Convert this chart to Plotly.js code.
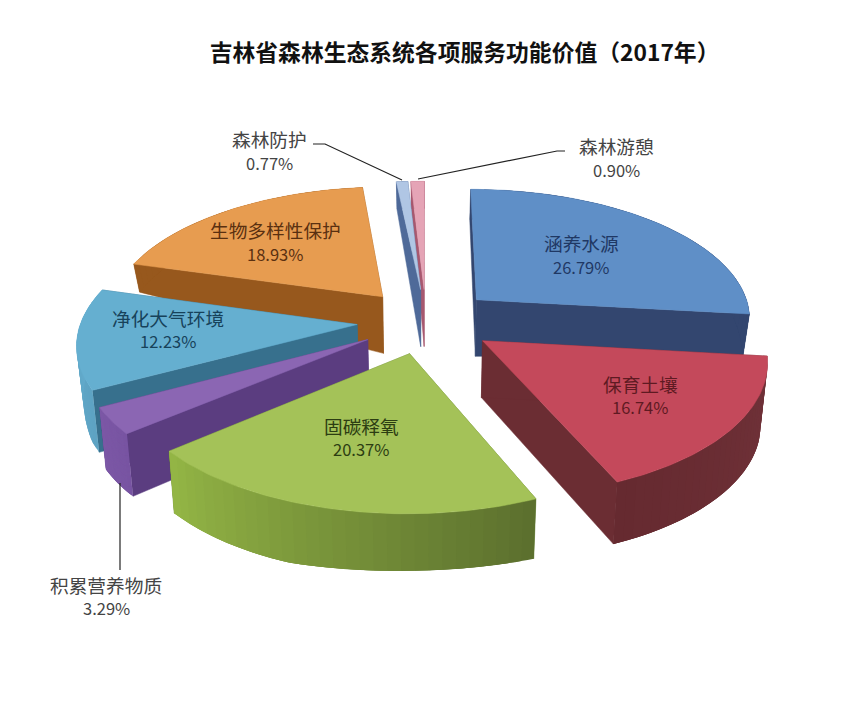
<!DOCTYPE html>
<html><head><meta charset="utf-8">
<script src="https://cdn.plot.ly/plotly-3.0.1.min.js"></script>
<style>html,body{margin:0;padding:0;background:#fff}</style></head>
<body><div id="chart" style="width:854px;height:710px"></div>
<script>
const categories=["涵养水源","保育土壤","固碳释氧","积累营养物质","净化大气环境","生物多样性保护","森林防护","森林游憩"];
const shares=[26.79,16.74,20.37,3.29,12.23,18.93,0.77,0.90];
const topColors=["#5f8fc7","#c4495b","#a4c258","#8b66b3","#65afd0","#e79c50","#b0c6e4","#e5a4b6"];
const wallColors=["#33466f","#6b2d33","#5f7d2e","#5b3d80","#37708d","#97581d","#4f6a99","#a7586f"];
const outerStart=[[51,70,111],[112,50,57],[92,112,46],[120,84,162],[94,163,195],[151,88,29],[79,106,153],[167,88,111]];
const outerEnd=[[51,70,111],[102,42,48],[147,181,69],[124,88,166],[101,175,208],[151,88,29],[79,106,153],[167,88,111]];
const textColors=["#1f3864","#5e1a22","#2c3d12","#444444","#17425a","#5a3010","#444444","#444444"];
const nameX=[581,640,361,106,168,275,269,616];
const nameY=[242,383,425,584,317,229,138,145];
const pctY=[267,407,449,608,341,254,163,170];
const drawOrder=[7,6,0,5,4,3,1,2];

const C={x:426,y:321,A:276,B:130,t:0.13,pull:0.25,start:0,d0:57,dk:30,dv:0.3,dmax:62,conv:0.02,backK:0.8,backV:0.6};
const project=(u,v)=>{const w=1+C.t*v;return [C.x+C.A*u/w,C.y-C.B*v/w];};
const depthAt=(u,v)=>Math.min(C.dmax,(C.d0-C.dk*u*u*(v+C.dv)))*(1-C.backK*Math.max(0,v-C.backV));
const lower=(u,v)=>{const q=project(u,v);return [q[0]-C.conv*(q[0]-C.x),q[1]+depthAt(u,v)];};
const total=shares.reduce((a,b)=>a+b,0);
const traces=[];
const poly=(pts,color,lw)=>traces.push({type:"scatter",mode:"lines",x:pts.map(p=>p[0]),y:pts.map(p=>p[1]),
  fill:"toself",fillcolor:color,line:{color:color,width:lw},hoverinfo:"skip",showlegend:false});
const mix=(a,b,f)=>"rgb("+a.map((c,j)=>Math.round(c+(b[j]-c)*f)).join(",")+")";
let acc=0;const wedges=shares.map(s=>{const a0=acc/total*2*Math.PI+C.start;acc+=s;const a1=acc/total*2*Math.PI+C.start;return [a0,a1];});
drawOrder.forEach(i=>{
  const [a0,a1]=wedges[i],m=(a0+a1)/2,ou=C.pull*Math.sin(m),ov=C.pull*Math.cos(m);
  const arc=[];const n=60;
  for(let k=0;k<=n;k++){const a=a0+(a1-a0)*k/n;arc.push([ou+Math.sin(a),ov+Math.cos(a)]);}
  const top=arc.map(p=>project(p[0],p[1]));
  const bot=arc.map(p=>lower(p[0],p[1]));
  const ap=project(ou,ov),ab=lower(ou,ov);
  poly([ap,ab,bot[n],top[n],ap],wallColors[i],0.5);
  poly([ap,ab,bot[0],top[0],ap],wallColors[i],0.5);
  for(let k=0;k<n;k+=2){
    const s=top.slice(k,k+7),b=bot.slice(k,k+7).reverse();
    poly(s.concat(b),mix(outerStart[i],outerEnd[i],k/(n-2)),0);
  }
  poly([ap].concat(top,[ap]),topColors[i],0.5);
});
const leaders=[[[313,144],[325,144],[402,180]],[[565,151],[557,151],[418,179]],[[120,483],[120,570]]];
leaders.forEach(l=>traces.push({type:"scatter",mode:"lines",x:l.map(p=>p[0]),y:l.map(p=>p[1]),line:{color:"#222",width:1.2},hoverinfo:"skip",showlegend:false}));
const fontFam="'Noto Sans CJK SC','Lato',sans-serif";
const annotations=[];
categories.forEach((c,i)=>{
  annotations.push({x:nameX[i],y:nameY[i],xref:"x",yref:"y",showarrow:false,text:c,font:{family:fontFam,size:18.7,color:textColors[i]}});
  annotations.push({x:nameX[i],y:pctY[i],xref:"x",yref:"y",showarrow:false,text:shares[i].toFixed(2)+"%",font:{family:fontFam,size:16.5,color:textColors[i]}});
});
Plotly.newPlot("chart",traces,{width:854,height:710,margin:{l:0,r:0,t:0,b:0},paper_bgcolor:"#fff",plot_bgcolor:"#fff",
  title:{text:"<b>吉林省森林生态系统各项服务功能价值（2017年）</b>",x:0.544,xanchor:"center",y:0.926,yanchor:"middle",font:{family:"'Noto Sans CJK SC',sans-serif",size:22.8,color:"#111"}},
  xaxis:{visible:false,range:[0,854],fixedrange:true},yaxis:{visible:false,range:[710,0],fixedrange:true},annotations:annotations},{displayModeBar:false,staticPlot:true});
</script></body></html>
